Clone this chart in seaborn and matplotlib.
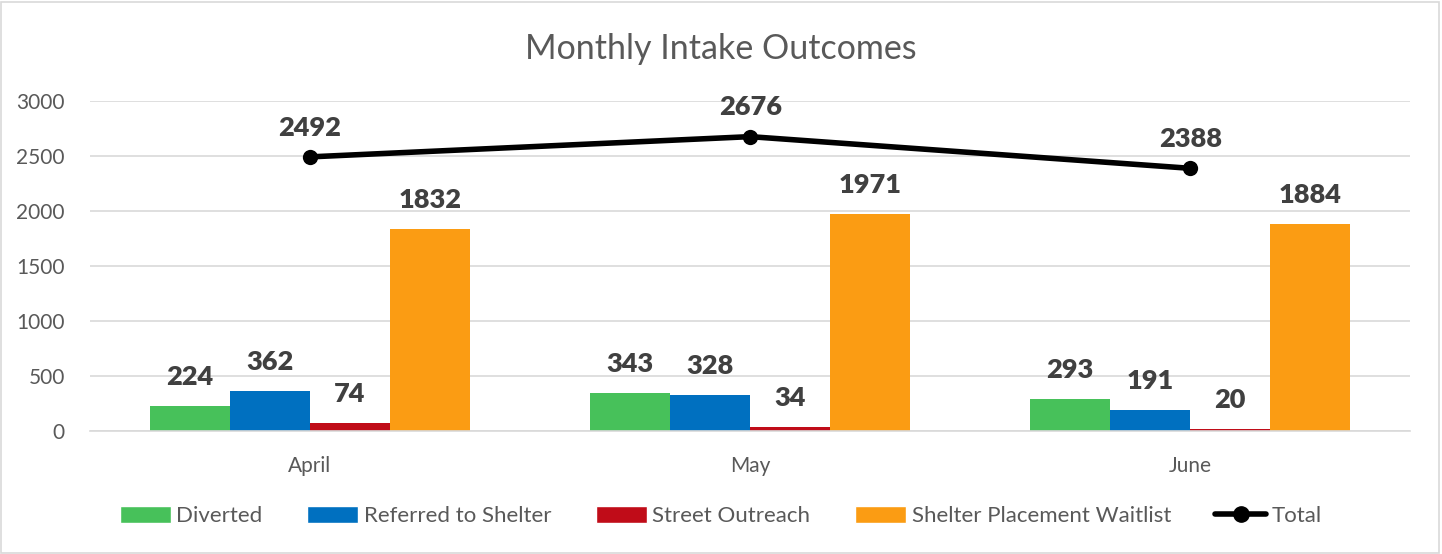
import pandas as pd
import numpy as np
import matplotlib
matplotlib.use("Agg")
import matplotlib.pyplot as plt
import seaborn as sns
from matplotlib.lines import Line2D
from matplotlib.patches import Patch

# datos
months = ["April", "May", "June"]
series = ["Diverted", "Referred to Shelter", "Street Outreach", "Shelter Placement Waitlist"]
diverted = [224, 343, 293]
referred = [362, 328, 191]
outreach = [74, 34, 20]
waitlist = [1832, 1971, 1884]
totals = [2492, 2676, 2388]

colors = ["#47c15a", "#0070c0", "#c00c18", "#fb9c13"]
txt = "#595959"

df = pd.DataFrame({
    "month": np.repeat(months, len(series)),
    "series": series * len(months),
    "value": np.ravel(np.column_stack([diverted, referred, outreach, waitlist])),
})

sns.set_style("white")
plt.rcParams["font.family"] = ["Lato", "DejaVu Sans"]

fig = plt.figure(figsize=(14.42, 5.54), dpi=100)
ax = fig.add_axes([0.0624, 0.222, 0.9156, 0.5957])

sns.barplot(data=df, x="month", y="value", hue="series", order=months,
            hue_order=series, palette=colors, width=0.727, saturation=1,
            linewidth=0, legend=False, ax=ax)

for cont in ax.containers:
    for bar in cont:
        h = bar.get_height()
        ax.annotate(f"{h:.0f}", (bar.get_x() + bar.get_width() / 2, h),
                    xytext=(0, 21), textcoords="offset points",
                    ha="center", va="center", fontsize=19.5, fontweight="heavy",
                    color="#404040")

xs = np.arange(len(months))
sns.lineplot(x=xs, y=totals, color="black", linewidth=4, marker="o",
             markersize=11, markeredgewidth=0, ax=ax)
for x, t in zip(xs, totals):
    ax.annotate(f"{t}", (x, t), xytext=(0, 21), textcoords="offset points",
                ha="center", va="center", fontsize=19.5, fontweight="heavy",
                color="#404040")

ax.set_ylim(0, 3000)
ax.set_xlim(-0.5, 2.5)
ax.set_yticks(range(0, 3001, 500))
ax.yaxis.grid(True, color="#d9d9d9", linewidth=1.2)
ax.set_axisbelow(True)
for s in ["top", "right", "left"]:
    ax.spines[s].set_visible(False)
ax.spines["bottom"].set_color("#d9d9d9")
ax.spines["bottom"].set_linewidth(1.2)
ax.tick_params(axis="both", length=0, labelsize=15, labelcolor=txt)
ax.tick_params(axis="x", pad=18)
ax.tick_params(axis="y", pad=18)
ax.set_xlabel("")
ax.set_ylabel("")

fig.suptitle("Monthly Intake Outcomes", y=0.94, fontsize=24.5, color=txt)

handles = [Patch(facecolor=c, label=l) for c, l in zip(colors, series)]
handles.append(Line2D([0], [0], color="black", linewidth=4, marker="o",
                      markersize=11, label="Total"))
fig.legend(handles=handles, loc="center", bbox_to_anchor=(0.5, 0.068), ncol=5,
           frameon=False, fontsize=16, labelcolor=txt, handlelength=2.3,
           handleheight=0.75, handletextpad=0.25, columnspacing=2.0)

fig.patches.append(plt.Rectangle((0.001, 0.002), 0.997, 0.995, transform=fig.transFigure,
                                 fill=False, edgecolor="#d9d9d9", linewidth=1.2))

fig.savefig("out.png", dpi=100)
